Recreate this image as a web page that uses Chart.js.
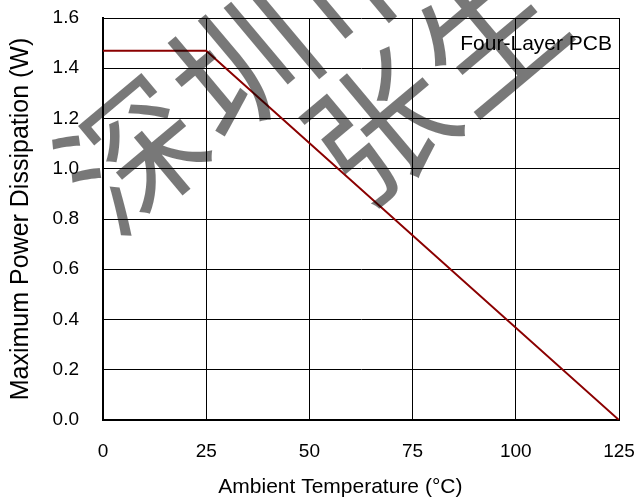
<!DOCTYPE html>
<html>
<head>
<meta charset="utf-8">
<script src="https://cdn.jsdelivr.net/npm/chart.js@4"></script>
<style>
html,body{margin:0;padding:0;background:#fff;}
#c{display:block;}
</style>
</head>
<body>
<canvas id="c" width="637" height="500"></canvas>
<script>
// ---- data ----
const temperatures = [0, 25, 125];          // Ambient Temperature (°C)
const powerDissipation = [1.47, 1.47, 0];   // Maximum Power Dissipation (W)
const xTicks = [0, 25, 50, 75, 100, 125];
const yTicks = [0.0, 0.2, 0.4, 0.6, 0.8, 1.0, 1.2, 1.4, 1.6];
const seriesLabel = 'Four-Layer PCB';
const xTitle = 'Ambient Temperature (°C)';
const yTitle = 'Maximum Power Dissipation (W)';
const watermarkLines = [['深', '圳', '市'], ['张', '生']];

const points = temperatures.map((t, i) => ({x: t, y: powerDissipation[i]}));

const FONT = '"Liberation Sans", Arial, sans-serif';

function noPad(scale) {
  scale.paddingTop = 0; scale.paddingBottom = 0;
  scale.paddingLeft = 0; scale.paddingRight = 0;
}

const annotationPlugin = {
  id: 'annot',
  afterDatasetsDraw(chart) {
    const ctx = chart.ctx;
    const a = chart.chartArea;
    ctx.save();
    ctx.fillStyle = '#000';
    ctx.textBaseline = 'middle';
    ctx.font = '21px ' + FONT;
    ctx.textAlign = 'right';
    ctx.fillText(seriesLabel, a.right - 7, a.top + 26);
    // x-axis title (offset left of the plot centre, as in the source)
    ctx.textAlign = 'center';
    ctx.fillText(xTitle, a.left + (a.right - a.left) * 0.46, chart.height - 13);
    ctx.restore();
  },
  afterDraw(chart) {
    const ctx = chart.ctx;
    ctx.save();
    ctx.fillStyle = 'rgba(0,0,0,0.53)';
    ctx.font = '140px "Noto Sans CJK SC"';
    ctx.textAlign = 'center';
    ctx.textBaseline = 'middle';
    const ang = -40 * Math.PI / 180;
    const ux = Math.cos(ang), uy = Math.sin(ang);
    const starts = [[133, 154], [380, 126]];
    const step = 143;
    watermarkLines.forEach((line, li) => {
      line.forEach((ch, ci) => {
        const cx = starts[li][0] + ux * step * ci;
        const cy = starts[li][1] + uy * step * ci;
        ctx.save();
        ctx.translate(cx, cy);
        ctx.rotate(ang);
        ctx.fillText(ch, 0, 0);
        ctx.restore();
      });
    });
    ctx.restore();
  }
};

new Chart(document.getElementById('c'), {
  type: 'scatter',
  data: {
    datasets: [{
      label: seriesLabel,
      data: points,
      showLine: true,
      borderColor: '#8b0000',
      borderWidth: 2,
      pointRadius: 0,
      pointHoverRadius: 0,
      tension: 0
    }]
  },
  options: {
    responsive: false,
    animation: false,
    devicePixelRatio: 1,
    layout: {padding: {left: 0, top: 18, right: 18, bottom: 0}},
    plugins: {legend: {display: false}, tooltip: {enabled: false}},
    scales: {
      x: {
        type: 'linear',
        min: 0, max: 125,
        afterBuildTicks(scale) { scale.ticks = xTicks.map(v => ({value: v})); },
        afterFit(scale) { scale.height = 80; noPad(scale); },
        grid: {color: '#000', lineWidth: 1, drawTicks: false},
        border: {color: '#000', width: 2},
        ticks: {color: '#000', font: {family: FONT, size: 19}, padding: 20,
                maxRotation: 0, callback: v => String(v)},
        title: {display: false, text: xTitle}
      },
      y: {
        type: 'linear',
        min: 0, max: 1.6,
        afterBuildTicks(scale) { scale.ticks = yTicks.map(v => ({value: v})); },
        afterFit(scale) { scale.width = 103; noPad(scale); },
        grid: {color: '#000', lineWidth: 1, drawTicks: false},
        border: {color: '#000', width: 2},
        ticks: {color: '#000', font: {family: FONT, size: 19}, padding: 24,
                callback: v => Number(v).toFixed(1)},
        title: {display: true, text: yTitle, color: '#000',
                font: {family: FONT, size: 25}, padding: {top: 6, bottom: 0}}
      }
    }
  },
  plugins: [annotationPlugin]
});
</script>
</body>
</html>
